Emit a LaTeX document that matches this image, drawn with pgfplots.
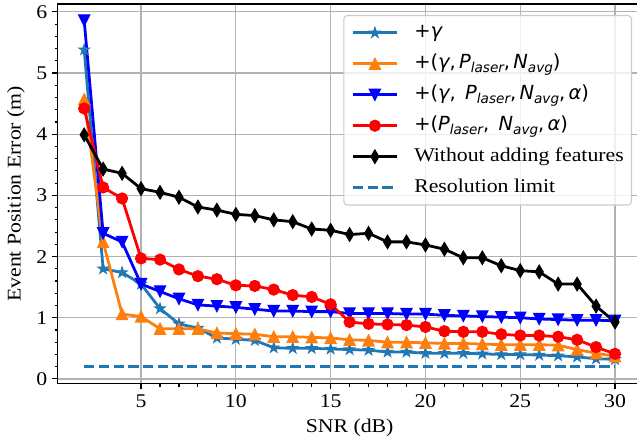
\documentclass[border=0pt]{standalone}
\usepackage{fontspec}
\setmainfont[FakeStretch=1.12]{Liberation Serif}
\newfontfamily\legfont{DejaVu Sans}
\usepackage{pgfplots}
\pgfplotsset{compat=1.18}

\definecolor{tabblue}{HTML}{1F77B4}
\definecolor{taborange}{HTML}{FF7F0E}

% filled five-pointed star
\pgfdeclareplotmark{mstar}{%
  \pgfpathmoveto{\pgfqpoint{0pt}{\pgfplotmarksize}}%
  \pgfpathlineto{\pgfqpoint{-0.2245\pgfplotmarksize}{0.3090\pgfplotmarksize}}%
  \pgfpathlineto{\pgfqpoint{-0.9511\pgfplotmarksize}{0.3090\pgfplotmarksize}}%
  \pgfpathlineto{\pgfqpoint{-0.3633\pgfplotmarksize}{-0.1180\pgfplotmarksize}}%
  \pgfpathlineto{\pgfqpoint{-0.5878\pgfplotmarksize}{-0.8090\pgfplotmarksize}}%
  \pgfpathlineto{\pgfqpoint{0pt}{-0.382\pgfplotmarksize}}%
  \pgfpathlineto{\pgfqpoint{0.5878\pgfplotmarksize}{-0.8090\pgfplotmarksize}}%
  \pgfpathlineto{\pgfqpoint{0.3633\pgfplotmarksize}{-0.1180\pgfplotmarksize}}%
  \pgfpathlineto{\pgfqpoint{0.9511\pgfplotmarksize}{0.3090\pgfplotmarksize}}%
  \pgfpathlineto{\pgfqpoint{0.2245\pgfplotmarksize}{0.3090\pgfplotmarksize}}%
  \pgfpathclose\pgfusepathqfillstroke}
% isosceles triangles, pointing up and down
\pgfdeclareplotmark{mtriup}{%
  \pgfpathmoveto{\pgfqpoint{0pt}{\pgfplotmarksize}}%
  \pgfpathlineto{\pgfqpoint{-\pgfplotmarksize}{-\pgfplotmarksize}}%
  \pgfpathlineto{\pgfqpoint{\pgfplotmarksize}{-\pgfplotmarksize}}%
  \pgfpathclose\pgfusepathqfillstroke}
\pgfdeclareplotmark{mtridown}{%
  \pgfpathmoveto{\pgfqpoint{0pt}{-\pgfplotmarksize}}%
  \pgfpathlineto{\pgfqpoint{-\pgfplotmarksize}{\pgfplotmarksize}}%
  \pgfpathlineto{\pgfqpoint{\pgfplotmarksize}{\pgfplotmarksize}}%
  \pgfpathclose\pgfusepathqfillstroke}
% thin diamond
\pgfdeclareplotmark{mthind}{%
  \pgfpathmoveto{\pgfqpoint{0pt}{\pgfplotmarksize}}%
  \pgfpathlineto{\pgfqpoint{0.6\pgfplotmarksize}{0pt}}%
  \pgfpathlineto{\pgfqpoint{0pt}{-\pgfplotmarksize}}%
  \pgfpathlineto{\pgfqpoint{-0.6\pgfplotmarksize}{0pt}}%
  \pgfpathclose\pgfusepathqfillstroke}

\newcommand{\lsub}[1]{\raisebox{-3pt}{\fontsize{9.8}{10}\selectfont\itshape #1}}

\begin{document}
\begin{tikzpicture}
\begin{axis}[
  name=ax,
  scale only axis,
  width=420.5pt, height=273.6pt,
  xmin=0.6, xmax=31.4, ymin=-0.08, ymax=6.13,
  xtick={5,10,...,30}, ytick={0,1,...,6},
  minor x tick num=4, minor y tick num=4,
  tick align=outside, tick pos=left,
  major tick length=4pt, minor tick length=2.2pt,
  tick style={black, line width=0.8pt},
  axis line style={line width=0.9pt},
  grid=major,
  major grid style={line width=0.9pt, draw=black!30},
  font=\fontsize{14}{16.8}\selectfont,
  /pgf/number format/assume math mode=true,
  xlabel={SNR (dB)},
  ylabel={Event Position Error (m)},
  every axis x label/.style={at={(axis description cs:0.5,-0.116)}, anchor=center},
  every axis y label/.style={at={(axis description cs:-0.0712,0.5)}, anchor=center, rotate=90},
  legend cell align=left,
  legend style={
    at={(0.9836,0.971)}, anchor=north east,
    draw=black!20, line width=0.8pt, rounded corners=2.5pt,
    fill=white, fill opacity=0.8, text opacity=1,
    inner xsep=5.5pt, inner ysep=5.5pt, row sep=8.3pt,
    nodes={inner sep=0pt, text height=10.5pt, text depth=3.5pt},
    /tikz/every odd column/.append style={column sep=11.5pt},
    font=\fontsize{14}{16.8}\selectfont,
  },
  legend image code/.code={%
    \draw[sharp corners, fill opacity=1, draw opacity=1, mark repeat=2, mark phase=2]
      plot coordinates {(0pt,0pt) (15.85pt,0pt) (31.7pt,0pt)};},
]

% + gamma
\addplot[color=tabblue, line width=2pt, mark=mstar, mark size=3.8pt,
  mark options={solid, line width=0.8pt, fill=tabblue}] coordinates {
  (2,5.38) (3,1.80) (4,1.74) (5,1.55) (6,1.15) (7,0.90) (8,0.83) (9,0.67)
  (10,0.65) (11,0.63) (12,0.51) (13,0.50) (14,0.50) (15,0.49) (16,0.48)
  (17,0.47) (18,0.44) (19,0.44) (20,0.42) (21,0.42) (22,0.42) (23,0.41)
  (24,0.40) (25,0.40) (26,0.39) (27,0.38) (28,0.36) (29,0.33) (30,0.32)};
\addlegendentry{{\legfont +\textit{γ}}}

% + (gamma, P_laser, N_avg)
\addplot[color=taborange, line width=2pt, mark=mtriup, mark size=4pt,
  mark options={solid, line width=0.8pt, fill=taborange}] coordinates {
  (2,4.57) (3,2.24) (4,1.06) (5,1.02) (6,0.82) (7,0.82) (8,0.82) (9,0.75)
  (10,0.74) (11,0.73) (12,0.69) (13,0.69) (14,0.68) (15,0.67) (16,0.64)
  (17,0.63) (18,0.60) (19,0.60) (20,0.59) (21,0.58) (22,0.58) (23,0.57)
  (24,0.56) (25,0.56) (26,0.56) (27,0.55) (28,0.48) (29,0.42) (30,0.37)};
\addlegendentry{{\legfont +(\textit{γ},\,\textit{P}\lsub{laser},\,\textit{N}\lsub{avg})}}

% + (gamma, P_laser, N_avg, alpha)
\addplot[color=blue, line width=2pt, mark=mtridown, mark size=4pt,
  mark options={solid, line width=0.8pt, fill=blue}] coordinates {
  (2,5.86) (3,2.38) (4,2.24) (5,1.55) (6,1.43) (7,1.31) (8,1.21) (9,1.19)
  (10,1.17) (11,1.14) (12,1.11) (13,1.11) (14,1.10) (15,1.10) (16,1.07)
  (17,1.07) (18,1.07) (19,1.06) (20,1.06) (21,1.04) (22,1.03) (23,1.02)
  (24,1.01) (25,1.00) (26,0.98) (27,0.97) (28,0.96) (29,0.96) (30,0.95)};
\addlegendentry{{\legfont +(\textit{γ},\ \,\textit{P}\lsub{laser},\,\textit{N}\lsub{avg},\,\textit{α})}}

% + (P_laser, N_avg, alpha)
\addplot[color=red, line width=2pt, mark=*, mark size=4pt,
  mark options={solid, line width=0.8pt, fill=red}] coordinates {
  (2,4.42) (3,3.13) (4,2.95) (5,1.97) (6,1.95) (7,1.79) (8,1.68) (9,1.63)
  (10,1.53) (11,1.52) (12,1.46) (13,1.37) (14,1.34) (15,1.22) (16,0.93)
  (17,0.90) (18,0.89) (19,0.88) (20,0.85) (21,0.78) (22,0.77) (23,0.77)
  (24,0.73) (25,0.71) (26,0.71) (27,0.69) (28,0.64) (29,0.52) (30,0.41)};
\addlegendentry{{\legfont +(\textit{P}\lsub{laser},\ \,\textit{N}\lsub{avg},\,\textit{α})}}

% baseline model
\addplot[color=black, line width=2pt, mark=mthind, mark size=4.8pt,
  mark options={solid, line width=0.8pt, fill=black}] coordinates {
  (2,3.99) (3,3.43) (4,3.36) (5,3.11) (6,3.05) (7,2.97) (8,2.81) (9,2.76)
  (10,2.69) (11,2.67) (12,2.60) (13,2.57) (14,2.45) (15,2.43) (16,2.36)
  (17,2.38) (18,2.24) (19,2.24) (20,2.19) (21,2.12) (22,1.98) (23,1.98)
  (24,1.85) (25,1.77) (26,1.75) (27,1.55) (28,1.55) (29,1.19) (30,0.93)};
\addlegendentry{Without adding features}

% resolution limit
\addplot[color=tabblue, line width=2pt, dash pattern=on 7.4pt off 3.2pt, mark=none]
  coordinates {(2,0.2) (30,0.2)};
\addlegendentry{Resolution limit}

\end{axis}
\pgfresetboundingbox
\path[use as bounding box]
  ([shift={(-41.5pt,-44pt)}]ax.south west) rectangle ([shift={(417.2pt,276.4pt)}]ax.south west);
\end{tikzpicture}
\end{document}
